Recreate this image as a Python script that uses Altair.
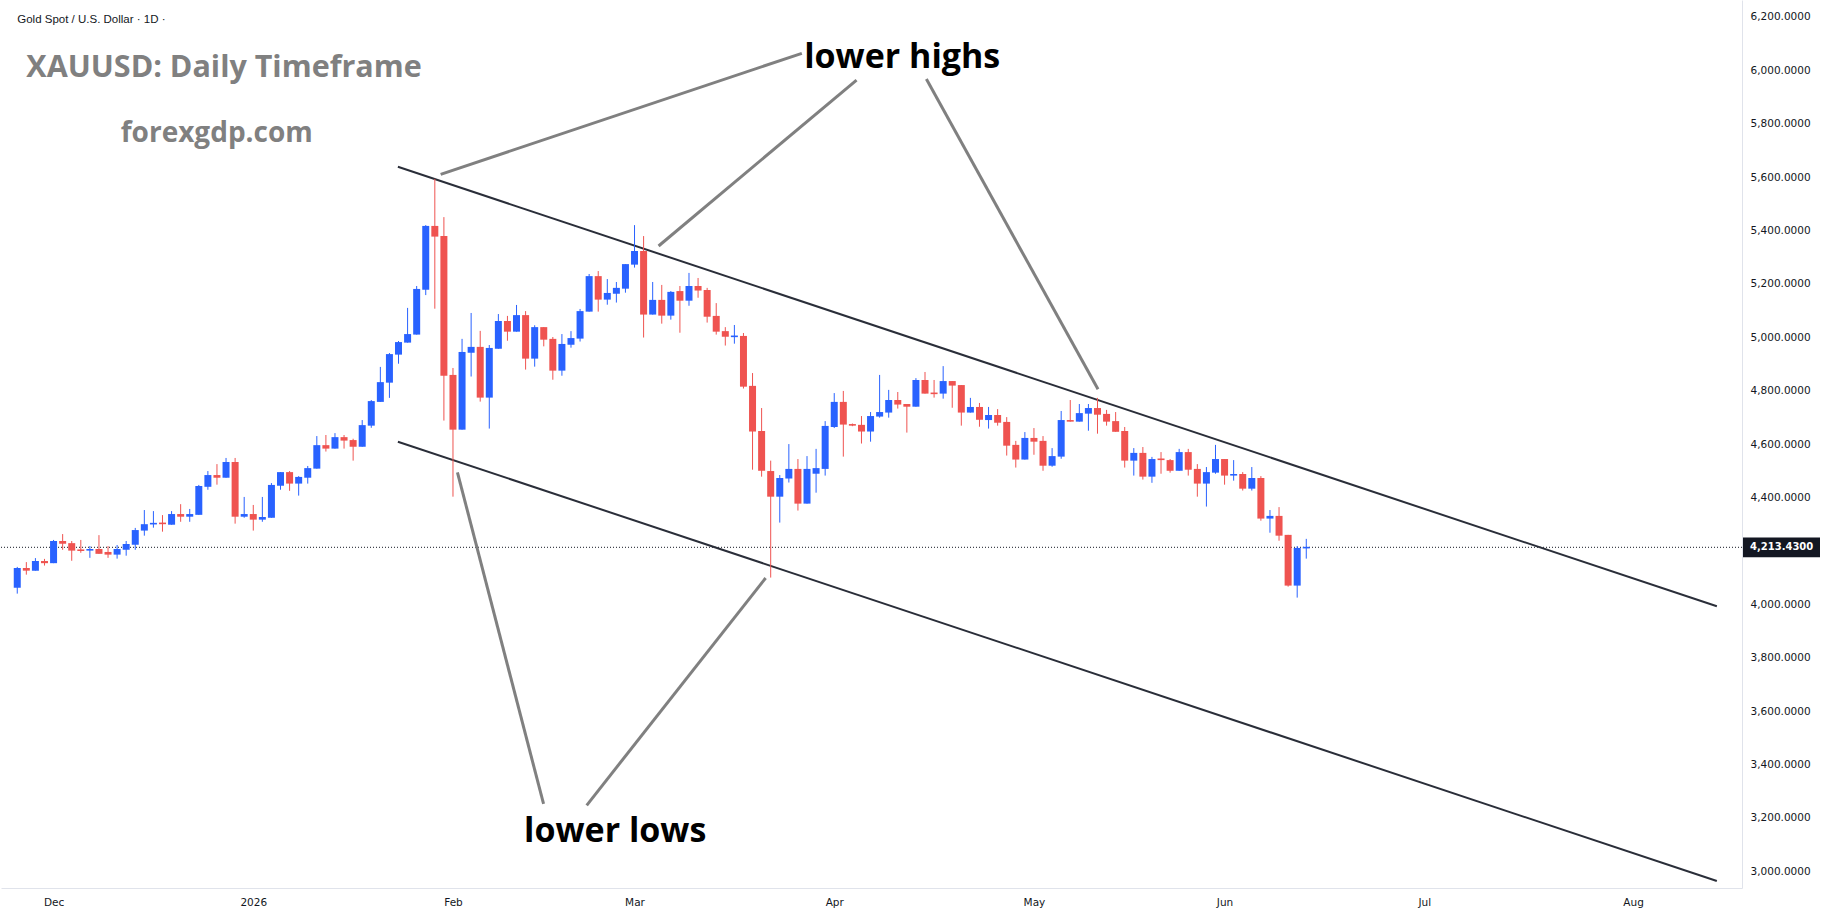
import altair as alt
import pandas as pd

# ---------------- data ----------------
opens = [4062, 4136, 4126, 4162, 4154, 4237, 4229, 4204, 4201, 4207,
         4196, 4186, 4204, 4223, 4276, 4300, 4304, 4298, 4338, 4328,
         4335, 4440, 4484, 4474, 4533, 4328, 4338, 4317, 4324, 4444,
         4495, 4452, 4474, 4508, 4596, 4583, 4626, 4615, 4590, 4669,
         4758, 4830, 4935, 4980, 5010, 5178, 5417, 5379, 4859, 4654,
         4942, 4964, 4774, 4957, 5061, 5021, 5083, 4920, 5038, 4994,
         4875, 4972, 4995, 5096, 5229, 5141, 5163, 5182, 5272, 5323,
         5085, 5140, 5081, 5173, 5137, 5192, 5177, 5080, 5023, 5002,
         5005, 4818, 4649, 4499, 4403, 4471, 4507, 4377, 4489, 4507,
         4664, 4758, 4675, 4672, 4647, 4703, 4718, 4765, 4750, 4740,
         4840, 4791, 4789, 4836, 4821, 4718, 4739, 4690, 4709, 4683,
         4597, 4542, 4623, 4612, 4519, 4553, 4690, 4684, 4714, 4735,
         4713, 4686, 4649, 4538, 4567, 4478, 4544, 4540, 4500, 4570,
         4507, 4452, 4493, 4544, 4482, 4488, 4433, 4473, 4321, 4331,
         4260, 4070, 4211]
highs = [4140, 4158, 4173, 4170, 4241, 4263, 4237, 4241, 4218, 4259,
         4218, 4222, 4237, 4286, 4353, 4349, 4334, 4349, 4375, 4357,
         4447, 4499, 4525, 4548, 4548, 4402, 4372, 4402, 4454, 4495,
         4499, 4480, 4518, 4630, 4634, 4641, 4634, 4620, 4690, 4765,
         4889, 4941, 4986, 5110, 5192, 5420, 5593, 5450, 4885, 4994,
         5091, 5024, 4971, 5087, 5080, 5121, 5098, 5045, 5038, 5001,
         5012, 5023, 5106, 5237, 5248, 5218, 5207, 5274, 5420, 5379,
         5207, 5196, 5173, 5192, 5241, 5222, 5185, 5128, 5038, 5046,
         5016, 4866, 4735, 4538, 4484, 4600, 4544, 4555, 4582, 4686,
         4791, 4799, 4677, 4705, 4720, 4859, 4803, 4795, 4750, 4847,
         4870, 4840, 4892, 4836, 4821, 4773, 4754, 4739, 4731, 4701,
         4612, 4645, 4660, 4630, 4585, 4724, 4765, 4750, 4750, 4773,
         4728, 4720, 4664, 4585, 4589, 4552, 4570, 4544, 4582, 4582,
         4525, 4514, 4597, 4544, 4540, 4495, 4514, 4480, 4353, 4364,
         4260, 4218, 4245]
lows = [4040, 4111, 4126, 4145, 4154, 4204, 4163, 4193, 4174, 4189,
        4174, 4171, 4182, 4204, 4257, 4287, 4272, 4298, 4309, 4309,
        4335, 4429, 4448, 4474, 4302, 4324, 4276, 4309, 4324, 4429,
        4425, 4407, 4452, 4508, 4572, 4583, 4583, 4538, 4590, 4661,
        4758, 4773, 4901, 4980, 5010, 5158, 5107, 4688, 4403, 4654,
        4853, 4759, 4658, 4957, 4987, 5021, 4879, 4890, 4966, 4841,
        4856, 4961, 4984, 5096, 5096, 5122, 5130, 5167, 5261, 4999,
        5085, 5051, 5066, 5017, 5118, 5148, 5055, 5010, 4969, 4976,
        4808, 4504, 4478, 4100, 4306, 4456, 4351, 4377, 4418, 4482,
        4660, 4553, 4667, 4602, 4609, 4699, 4699, 4733, 4643, 4740,
        4789, 4774, 4770, 4736, 4669, 4718, 4665, 4658, 4669, 4557,
        4512, 4542, 4560, 4500, 4515, 4545, 4684, 4684, 4650, 4639,
        4669, 4646, 4512, 4482, 4467, 4455, 4489, 4493, 4500, 4482,
        4403, 4366, 4489, 4448, 4463, 4426, 4426, 4313, 4268, 4238,
        4066, 4025, 4171]
closes = [4136, 4126, 4162, 4154, 4237, 4227, 4201, 4201, 4207, 4189,
          4186, 4207, 4226, 4278, 4300, 4304, 4302, 4338, 4328, 4338,
          4443, 4484, 4474, 4533, 4328, 4338, 4317, 4327, 4447, 4495,
          4452, 4477, 4510, 4596, 4583, 4626, 4613, 4590, 4671, 4761,
          4832, 4937, 4982, 5012, 5181, 5417, 5377, 4856, 4654, 4945,
          4964, 4774, 4960, 5061, 5021, 5083, 4920, 5038, 4991, 4875,
          4975, 4997, 5098, 5229, 5141, 5166, 5185, 5274, 5323, 5085,
          5140, 5081, 5170, 5137, 5192, 5175, 5077, 5021, 5002, 5005,
          4815, 4647, 4500, 4403, 4473, 4507, 4377, 4507, 4510, 4668,
          4758, 4673, 4669, 4647, 4705, 4720, 4765, 4748, 4740, 4840,
          4789, 4789, 4836, 4819, 4718, 4739, 4691, 4709, 4680, 4594,
          4542, 4623, 4609, 4519, 4555, 4690, 4684, 4716, 4735, 4710,
          4684, 4646, 4538, 4567, 4478, 4544, 4542, 4500, 4570, 4504,
          4452, 4495, 4544, 4482, 4488, 4433, 4473, 4321, 4331, 4257,
          4070, 4211, 4213.43]

month_ticks = [4, 26, 48, 68, 90, 112, 133, 155, 178]
month_labels = ["Dec", "2026", "Feb", "Mar", "Apr", "May", "Jun", "Jul", "Aug"]
# 4,200 is covered by the last-price tag in the reference, so it is not listed
price_ticks = [3000, 3200, 3400, 3600, 3800, 4000, 4400, 4600, 4800,
               5000, 5200, 5400, 5600, 5800, 6000, 6200]
last_price = 4213.43

# channel lines (bar index, price)
channel_x1 = [41.93, 41.93]
channel_y1 = [5638.6, 4609.0]
channel_x2 = [187.23, 187.23]
channel_y2 = [3992.4, 2963.7]

# annotation pointer lines
pointer_x1 = [86.43, 92.46, 100.15, 57.98, 62.73]
pointer_y1 = [6063.4, 5963.4, 5967.1, 3252.1, 3247.2]
pointer_x2 = [46.64, 70.65, 119.06, 48.49, 82.44]
pointer_y2 = [5610.3, 5341.8, 4805.1, 4494.3, 4098.4]

# texts
note_texts = ["lower highs", "lower lows"]
note_x = [97.49, 65.87]
note_y = [6007.3, 3110.9]

title_text = "XAUUSD: Daily Timeframe"
site_text = "forexgdp.com"
symbol_text = "Gold Spot / U.S. Dollar \u00b7 1D \u00b7"
head_x = [1.0, 11.4, 0.0]
head_y = [5973.6, 5732.4, 6178.0]

# ---------------- tables ----------------
n = len(opens)
df = pd.DataFrame({"i": list(range(n)), "o": opens, "h": highs, "l": lows, "c": closes})
df["dir"] = ["up" if c >= o else "down" for o, c in zip(df.o, df.c)]
df["bhi"] = df[["o", "c"]].max(axis=1)
df["blo"] = df[["o", "c"]].min(axis=1)
mid = (df.bhi + df.blo) / 2
thin = (df.bhi - df.blo) < 6
df.loc[thin, "bhi"] = mid[thin] + 3
df.loc[thin, "blo"] = mid[thin] - 3

chan = pd.DataFrame({"x": channel_x1, "y": channel_y1, "x2": channel_x2, "y2": channel_y2})
ptr = pd.DataFrame({"x": pointer_x1, "y": pointer_y1, "x2": pointer_x2, "y2": pointer_y2})
notes = pd.DataFrame({"x": note_x, "y": note_y, "t": note_texts})
lp = pd.DataFrame({"p": [last_price], "hi": [last_price + 37], "lo": [last_price - 37],
                   "t": [f"{last_price:,.4f}"]})
heads = pd.DataFrame({"x": head_x, "y": head_y,
                      "t": [title_text, site_text, symbol_text], "k": ["title", "site", "sym"]})

# ---------------- scales & axes ----------------
W, H = 1741, 888
xs = alt.Scale(domain=[-1.24, 189.45], nice=False, zero=False)
ys = alt.Scale(domain=[2937.5, 6263.1], nice=False, zero=False)

expr = "''"
for t, lab in reversed(list(zip(month_ticks, month_labels))):
    expr = f"datum.value == {t} ? '{lab}' : ({expr})"

xaxis = alt.Axis(values=month_ticks, labelExpr=expr, title=None, grid=False, ticks=False,
                 domainColor="#e0e3eb", domainWidth=1, labelFont="DejaVu Sans",
                 labelFontSize=10.5, labelColor="#131722", labelPadding=9,
                 labelOverlap=False, labelFlush=False)
yaxis = alt.Axis(values=price_ticks, format=",.4f", orient="right", title=None, grid=False,
                 ticks=False, domainColor="#e0e3eb", domainWidth=1, labelFont="DejaVu Sans",
                 labelFontSize=10.5, labelColor="#131722", labelPadding=8,
                 labelOverlap=False, labelFlush=False)


def X(f):
    return alt.X(f"{f}:Q", scale=xs, axis=xaxis)


def Y(f):
    return alt.Y(f"{f}:Q", scale=ys, axis=yaxis)


col = alt.Color("dir:N", scale=alt.Scale(domain=["up", "down"], range=["#2962FF", "#EF5350"]),
                legend=None)

base = alt.Chart(df)
wicks = base.mark_rule(strokeWidth=1).encode(x=X("i"), y=Y("l"), y2="h:Q", color=col)
bodies = base.mark_bar(size=7).encode(x=X("i"), y=Y("blo"), y2="bhi:Q", color=col)

price_line = alt.Chart(lp).mark_rule(strokeDash=[1, 2], strokeWidth=1, color="#131722").encode(
    y=Y("p"))

channel = alt.Chart(chan).mark_rule(color="#2a2e39", strokeWidth=2).encode(
    x=X("x"), y=Y("y"), x2="x2:Q", y2="y2:Q")
pointers = alt.Chart(ptr).mark_rule(color="#808080", strokeWidth=3).encode(
    x=X("x"), y=Y("y"), x2="x2:Q", y2="y2:Q")

note_layer = alt.Chart(notes).mark_text(font="Open Sans", fontWeight="bold", fontSize=34,
                                        color="#000000", align="center",
                                        baseline="alphabetic").encode(
    x=X("x"), y=Y("y"), text="t:N")

title_layer = alt.Chart(heads[heads.k == "title"]).mark_text(
    font="Open Sans", fontWeight="bold", fontSize=30.5, color="#808080", align="left",
    baseline="alphabetic").encode(x=X("x"), y=Y("y"), text="t:N")
site_layer = alt.Chart(heads[heads.k == "site"]).mark_text(
    font="Open Sans", fontWeight="bold", fontSize=28, color="#808080", align="left",
    baseline="alphabetic").encode(x=X("x"), y=Y("y"), text="t:N")
sym_layer = alt.Chart(heads[heads.k == "sym"]).mark_text(
    font="Liberation Sans", fontSize=11.5, color="#131722", align="left",
    baseline="alphabetic").encode(x=X("x"), y=Y("y"), text="t:N")

lp_box = alt.Chart(lp).mark_rect(color="#131722").encode(
    x=alt.value(W + 1), x2=alt.value(W + 78), y=Y("hi"), y2="lo:Q")
lp_text = alt.Chart(lp).mark_text(font="DejaVu Sans", fontSize=10, fontWeight="bold",
                                  color="#ffffff", align="left", baseline="middle").encode(
    x=alt.value(W + 8), y=Y("p"), text="t:N")

chart = alt.layer(price_line, channel, pointers, wicks, bodies, note_layer, title_layer,
                  site_layer, sym_layer, lp_box, lp_text).properties(
    width=W, height=H, padding=0, background="#ffffff"
).configure_view(stroke=None)

chart.save("out.html", embed_options={"renderer": "svg", "actions": False})
